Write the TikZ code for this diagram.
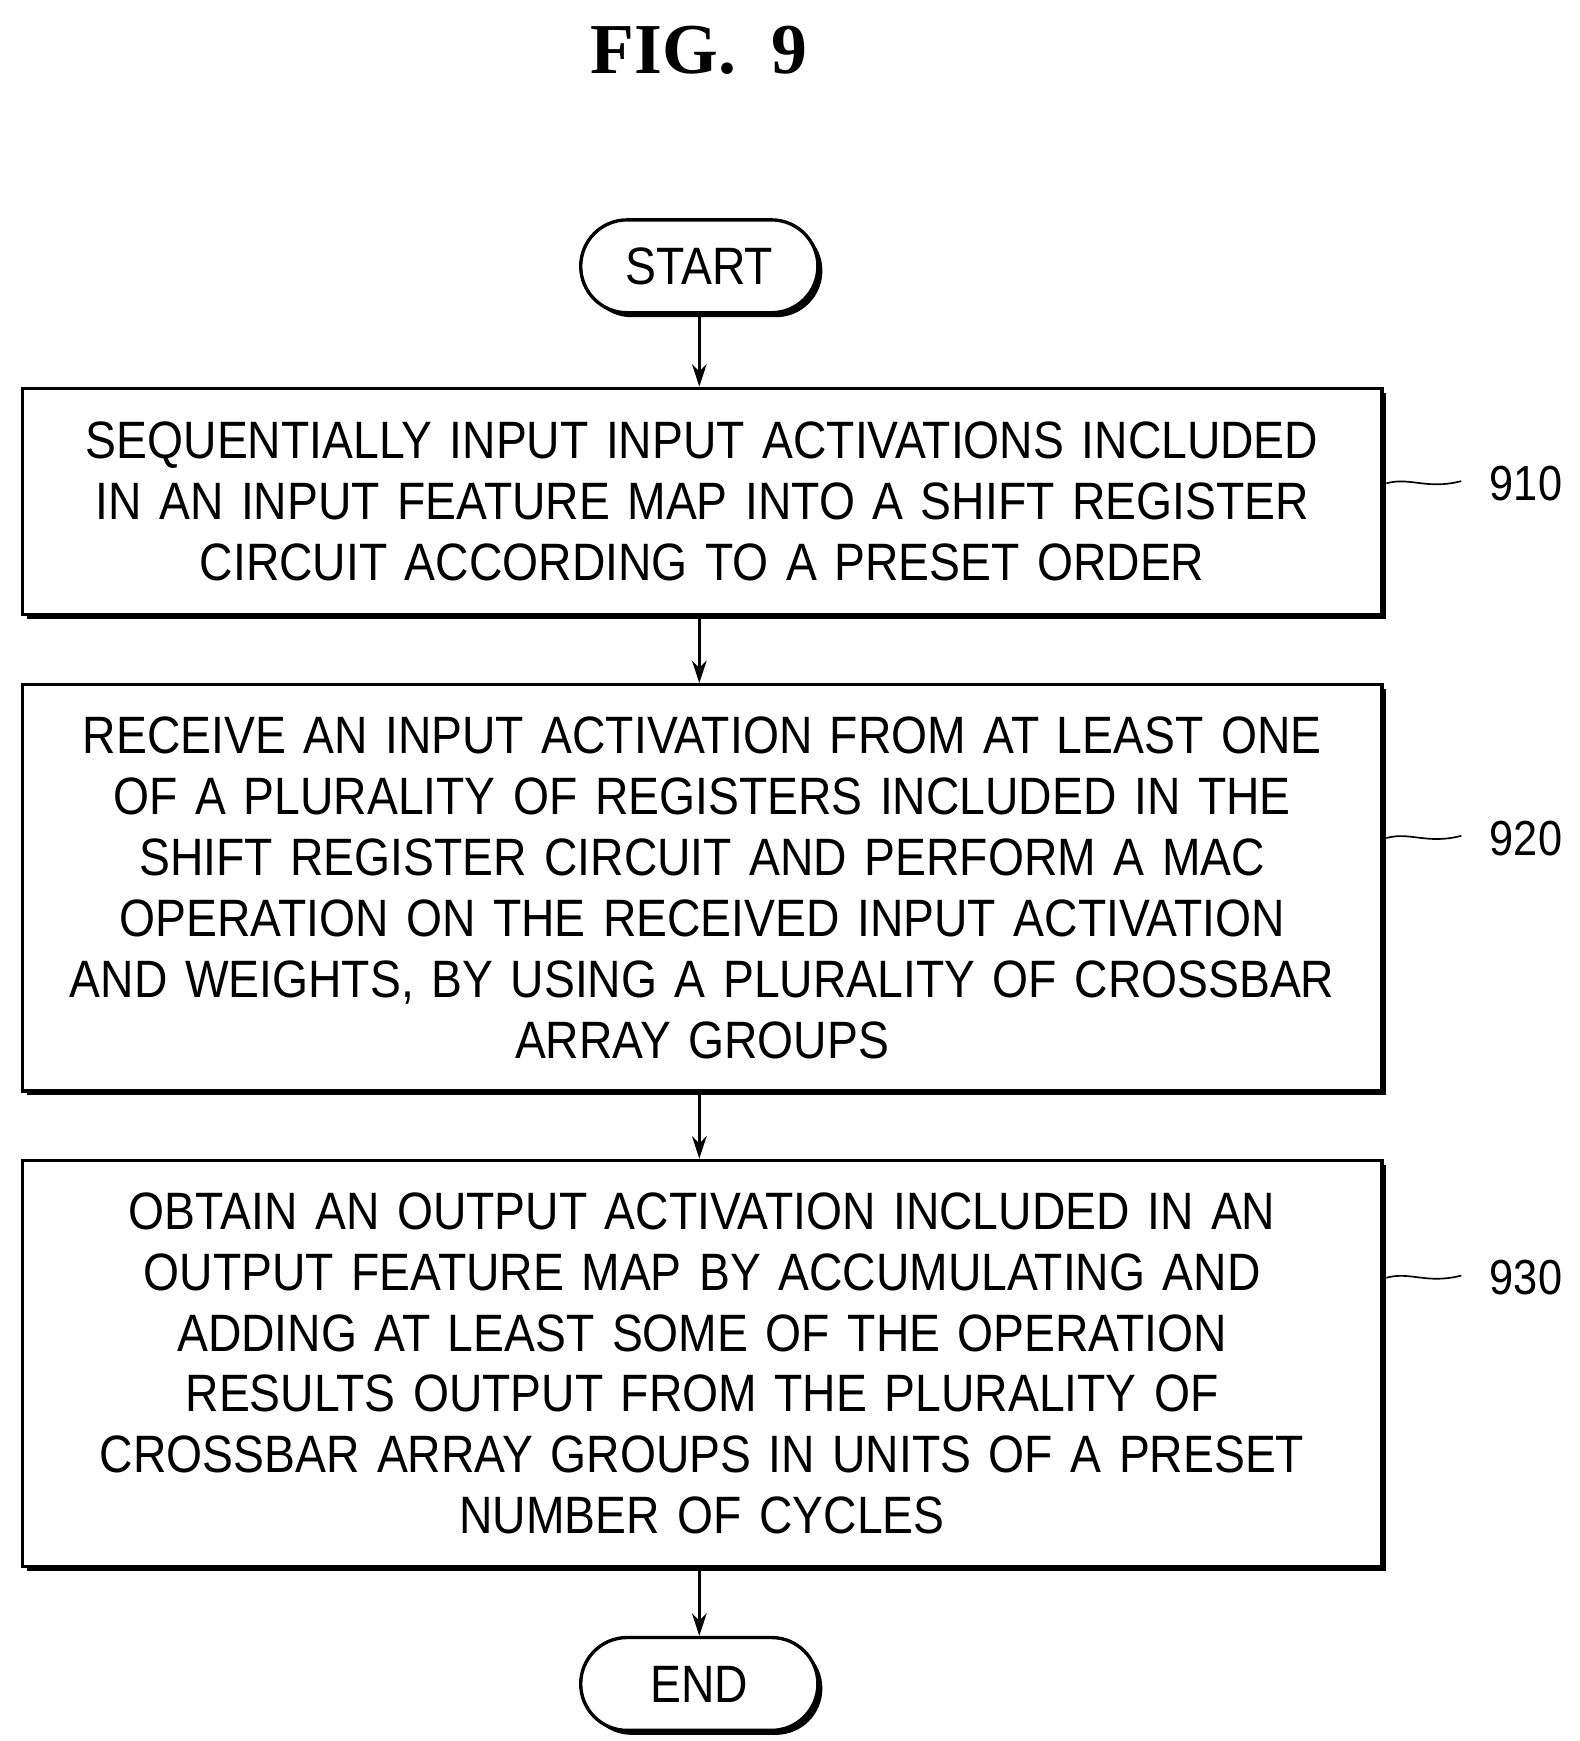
\documentclass[tikz,border=0pt]{standalone}
\usepackage{fontspec}
\setmainfont{Liberation Sans}[FakeStretch=0.88]
\newfontfamily\figfont{Liberation Serif}
\usetikzlibrary{arrows.meta,shapes.misc,shadows}
\begin{document}
\begin{tikzpicture}[x=1pt,y=-1pt,
  box/.style={draw,line width=3pt,fill=white,minimum width=1215pt,text width=1190pt,align=center,
    font=\fontsize{47}{54.5}\selectfont,inner sep=0pt,
    general shadow={shadow xshift=4pt,shadow yshift=-4pt,fill=black}},
  term/.style={draw,line width=3pt,fill=white,rounded rectangle,minimum width=212pt,minimum height=83pt,
    font=\fontsize{47}{54}\selectfont,inner sep=0pt,
    general shadow={shadow xshift=4pt,shadow yshift=-4pt,fill=black}},
  arr/.style={line width=3pt,-{Stealth[length=20pt,width=13pt]}},
  lab/.style={font=\fontsize{44}{50}\selectfont,anchor=west},
  tick/.style={line width=1.5pt}]
\useasboundingbox (0,0) rectangle (1412,1556);
\node[font=\figfont\bfseries\fontsize{64}{70}\selectfont] (title) at (625,45) {FIG.\ \ 9};
\node[term] (start) at (625,238) {START};
\node[box,minimum height=202pt] (b1) at (627.5,448) {SEQUENTIALLY INPUT INPUT ACTIVATIONS INCLUDED\\IN AN INPUT FEATURE MAP INTO A SHIFT REGISTER\\CIRCUIT ACCORDING TO A PRESET ORDER};
\node[box,minimum height=363pt] (b2) at (627.5,793.5) {RECEIVE AN INPUT ACTIVATION FROM AT LEAST ONE\\OF A PLURALITY OF REGISTERS INCLUDED IN THE\\SHIFT REGISTER CIRCUIT AND PERFORM A MAC\\OPERATION ON THE RECEIVED INPUT ACTIVATION\\AND WEIGHTS, BY USING A PLURALITY OF CROSSBAR\\ARRAY GROUPS};
\node[box,minimum height=363pt] (b3) at (627.5,1218.5) {OBTAIN AN OUTPUT ACTIVATION INCLUDED IN AN\\OUTPUT FEATURE MAP BY ACCUMULATING AND\\ADDING AT LEAST SOME OF THE OPERATION\\RESULTS OUTPUT FROM THE PLURALITY OF\\CROSSBAR ARRAY GROUPS IN UNITS OF A PRESET\\NUMBER OF CYCLES};
\node[term] (end) at (625,1505) {END};
\draw[arr] (start.south) -- (b1.north -| start.south);
\draw[arr] ([xshift=-2.5pt]b1.south) -- ([xshift=-2.5pt]b2.north);
\draw[arr] ([xshift=-2.5pt]b2.south) -- ([xshift=-2.5pt]b3.north);
\draw[arr] ([xshift=-2.5pt]b3.south) -- (end.north);
\foreach \n/\y/\t in {l1/432/910,l2/749/920,l3/1142/930}{
  \node[lab] (\n) at (1328,\y) {\t};
  \draw[tick] (1239,\y) .. controls (1260,\y-6) and (1275,\y+6) .. (1306,\y-2);
}
\end{tikzpicture}
\end{document}
